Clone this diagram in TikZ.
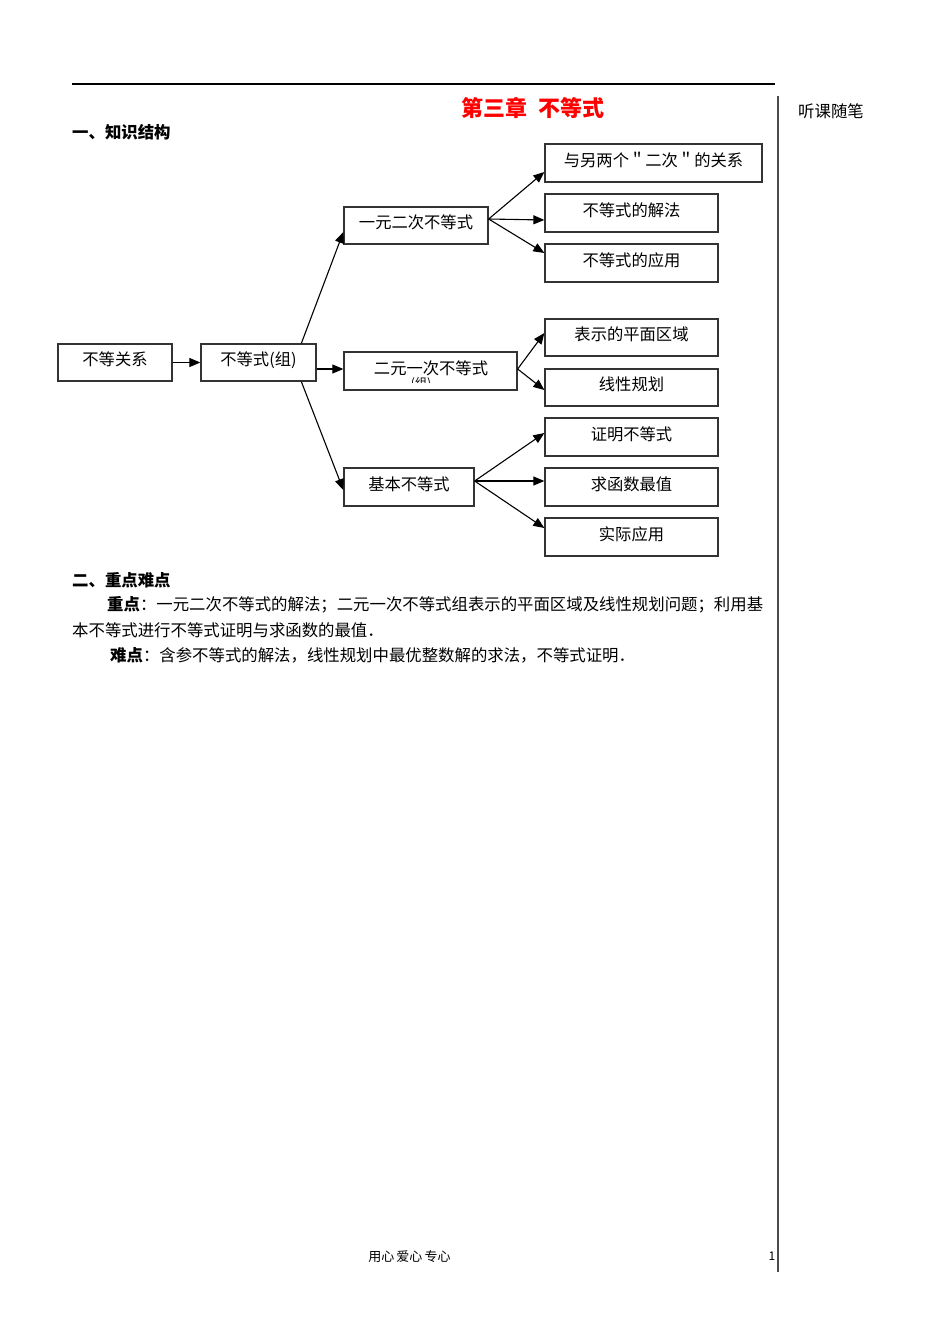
\documentclass[tikz,border=0pt]{standalone}
\usepackage{fontspec}
\setmainfont{Noto Sans CJK SC}
\usetikzlibrary{arrows.meta}
\begin{document}
\begin{tikzpicture}[x=1pt,y=-1pt,
  box/.style={draw=black!80, line width=1.3pt, inner sep=0pt, text height=14pt, text depth=8pt, font=\fontsize{16.3}{18}\selectfont},
  conn/.style={line width=1.1pt, -{Triangle[length=11pt,width=9pt]}},
  body/.style={anchor=west, inner sep=0pt, font=\fontsize{16.4}{18}\selectfont},
  head/.style={anchor=west, inner sep=0pt, font=\fontsize{16.4}{18}\selectfont\bfseries}]
\useasboundingbox[fill=white] (0,0) rectangle (950,1344);
% page rules
\draw[line width=1.2pt] (72,84) coordinate (r1) -- (775,84) coordinate (r2);
\draw[line width=1.4pt, black!70] (778,96) coordinate (v1) -- (778,1272) coordinate (v2);
% headings
\node[inner sep=0pt, text=red, font=\fontsize{22}{24}\selectfont\bfseries] (title) at (533,108) {第三章\ \ 不等式};
\node[inner sep=0pt, font=\fontsize{16.4}{18}\selectfont] (side) at (831,111) {听课随笔};
\node[head] (h1) at (72,132) {一、知识结构};
% boxes
\node[box, minimum width=114, minimum height=37] (a) at (115,362.5) {不等关系};
\node[box, minimum width=115, minimum height=37] (b) at (258.5,362.5) {不等式(组)};
\node[box, minimum width=144, minimum height=37] (c1) at (416,225.5) {一元二次不等式};
\node[box, minimum width=173, minimum height=38] (c2) at (430.5,371) {};
\node[inner sep=0pt, font=\fontsize{16.3}{18}\selectfont] (c2t) at (431,368) {二元一次不等式};
\begin{scope}
\clip (400,374) rectangle (445,382.5);
\node[inner sep=0pt, font=\fontsize{12}{14}\selectfont] (c2z) at (421,384) {(组)};
\end{scope}
\node[box, minimum width=130, minimum height=38] (c3) at (409,487) {基本不等式};
\node[box, minimum width=217, minimum height=38] (d1) at (653.5,163) {与另两个＂二次＂的关系};
\node[box, minimum width=173, minimum height=38] (d2) at (631.5,213) {不等式的解法};
\node[box, minimum width=173, minimum height=38] (d3) at (631.5,263) {不等式的应用};
\node[box, minimum width=173, minimum height=37] (e1) at (631.5,337.5) {表示的平面区域};
\node[box, minimum width=173, minimum height=37] (e2) at (631.5,387.5) {线性规划};
\node[box, minimum width=173, minimum height=38] (f1) at (631.5,437) {证明不等式};
\node[box, minimum width=173, minimum height=38] (f2) at (631.5,487) {求函数最值};
\node[box, minimum width=173, minimum height=38] (f3) at (631.5,537) {实际应用};
% connectors
\draw[conn] (a.east) -- (b.west);
\draw[conn] ([yshift=-6.5pt]b.east) -- ([yshift=2pt]c2.west);
\draw[conn] ([xshift=101pt]b.north west) -- ([yshift=-6.5pt]c1.west);
\draw[conn] ([xshift=101pt]b.south west) -- ([yshift=-3pt]c3.west);
\draw[conn] ([yshift=6.5pt]c1.east) -- ([yshift=-9pt]d1.west);
\draw[conn] ([yshift=6.5pt]c1.east) -- ([yshift=-7pt]d2.west);
\draw[conn] ([yshift=6.5pt]c1.east) -- ([yshift=10pt]d3.west);
\draw[conn] ([yshift=2pt]c2.east) -- ([yshift=4.5pt]e1.west);
\draw[conn] ([yshift=2pt]c2.east) -- ([yshift=-2.5pt]e2.west);
\draw[conn] ([yshift=6pt]c3.east) -- ([yshift=4pt]f1.west);
\draw[conn] ([yshift=6pt]c3.east) -- ([yshift=6pt]f2.west);
\draw[conn] ([yshift=6pt]c3.east) -- ([yshift=9pt]f3.west);
% section 2
\node[head] (h2) at (72,580) {二、重点难点};
\node[body] (p1) at (107,605) {\textbf{重点}：一元二次不等式的解法；二元一次不等式组表示的平面区域及线性规划问题；利用基};
\node[body] (p2) at (72,630) {本不等式进行不等式证明与求函数的最值．};
\node[body] (p3) at (110,655) {\textbf{难点}：含参不等式的解法，线性规划中最优整数解的求法，不等式证明．};
% footer
\node[inner sep=0pt, font=\fontsize{13}{15}\selectfont] (foot) at (409.5,1257) {用心\,爱心\,专心};
\node[inner sep=0pt, font=\fontsize{12}{14}\selectfont] (pg) at (772,1256) {1};
\end{tikzpicture}
\end{document}
